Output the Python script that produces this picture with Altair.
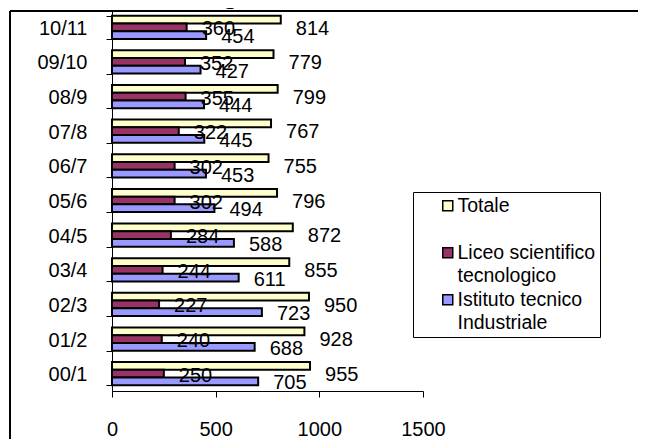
import altair as alt
import pandas as pd

years = ["00/1", "01/2", "02/3", "03/4", "04/5", "05/6", "06/7", "07/8", "08/9", "09/10", "10/11"]
totale = [955, 928, 950, 855, 872, 796, 755, 767, 799, 779, 814]
liceo = [250, 240, 227, 244, 284, 302, 302, 322, 355, 352, 360]
istituto = [705, 688, 723, 611, 588, 494, 453, 445, 444, 427, 454]
series = ["Totale", "Liceo scientifico tecnologico", "Istituto tecnico Industriale"]
colors = ["#FFFFCC", "#993366", "#9999FF"]
x_ticks = [0, 500, 1000, 1500]
title_text = ["Scientifico-Tecnologico."]

rows = []
for i, yr in enumerate(years):
    for s, vals in zip(series, [totale, liceo, istituto]):
        rows.append({"anno": yr, "serie": s, "valore": vals[i]})
df = pd.DataFrame(rows)

FONT = "Liberation Sans, Arial"
NB = "\u00a0" * 5
label_expr = (
    "datum.label == 'Totale' ? ['Totale', ''] : "
    "datum.label == 'Liceo scientifico tecnologico' ? ['Liceo scientifico" + NB + "', 'tecnologico'] : "
    "['Istituto tecnico', 'Industriale']"
)

y_enc = alt.Y(
    "anno:N",
    sort=list(reversed(years)),
    scale=alt.Scale(paddingInner=0.33, paddingOuter=0.165),
    axis=alt.Axis(title=None, tickBand="extent", tickSize=6, labelPadding=19,
                  labelOffset=1, domainColor="black", tickColor="black",
                  labelColor="black", labelFont=FONT, labelFontSize=20, grid=False),
)
yoff = alt.YOffset("serie:N", sort=series,
                   scale=alt.Scale(domain=series, paddingInner=0, paddingOuter=0))
x_enc = alt.X(
    "valore:Q",
    scale=alt.Scale(domain=[0, 1500], nice=False),
    axis=alt.Axis(title=None, values=x_ticks, format="d", tickSize=6, labelPadding=22,
                  labelFlush=False, domainColor="black", tickColor="black",
                  labelColor="black", labelFont=FONT, labelFontSize=20, grid=False),
)

base = alt.Chart(df)

bars = base.mark_bar(stroke="black", strokeWidth=2).encode(
    x=x_enc,
    y=y_enc,
    yOffset=yoff,
    color=alt.Color(
        "serie:N",
        sort=series,
        scale=alt.Scale(domain=series, range=colors),
        legend=alt.Legend(
            title=None, orient="none", legendX=301, legendY=182,
            strokeColor="black", fillColor="white", padding=4, cornerRadius=0,
            symbolType="square", symbolSize=100,
            symbolStrokeColor="black", symbolStrokeWidth=1.5,
            symbolOffset=21, labelOffset=0, labelFont=FONT, labelFontSize=19.5,
            labelColor="black", labelBaseline="middle", labelLimit=400,
            rowPadding=3,
            labelExpr=label_expr,
        ),
    ),
)

text_tot = base.transform_filter(alt.datum.serie == "Totale").mark_text(
    align="left", baseline="middle", dx=15, dy=9, font=FONT, fontSize=20, color="black"
).encode(x="valore:Q", y=y_enc, yOffset=yoff, text="valore:Q")

text_oth = base.transform_filter(alt.datum.serie != "Totale").mark_text(
    align="left", baseline="middle", dx=15, dy=2, font=FONT, fontSize=20, color="black"
).encode(x="valore:Q", y=y_enc, yOffset=yoff, text="valore:Q")

one = alt.Chart(pd.DataFrame({"t": title_text}))
frame_top = one.mark_rule(color="black", strokeWidth=2).encode(
    x=alt.value(-102), x2=alt.value(540), y=alt.value(1))
frame_left = one.mark_rule(color="black", strokeWidth=2).encode(
    x=alt.value(-102), y=alt.value(1), y2=alt.value(440))
title = one.mark_text(align="left", baseline="alphabetic", font="Liberation Serif",
                      fontSize=27, color="black").encode(
    x=alt.value(-101), y=alt.value(-7), text="t:N")

chart = alt.layer(bars, text_tot, text_oth, frame_top, frame_left, title).properties(
    width=311, height=381,
    autosize=alt.AutoSizeParams(type="none"),
    padding={"left": 104, "top": 2, "right": 215, "bottom": 48},
).configure(
    background="white",
    view={"strokeWidth": 0},
    style={"guide-label": {"lineHeight": 23}},
)

chart.save("out.html", embed_options={"renderer": "svg", "actions": False})
